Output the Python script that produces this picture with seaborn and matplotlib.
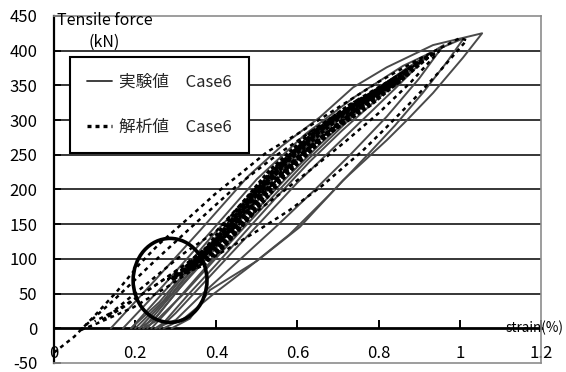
import matplotlib
matplotlib.use("Agg")
import matplotlib.pyplot as plt
from matplotlib.lines import Line2D
from matplotlib.patches import Ellipse
import seaborn as sns
import pandas as pd

# ---------------- data ----------------
# experimental loops (strain %, tensile force kN)
e1_strain = [0.14, 0.25, 0.36, 0.48, 0.56, 0.655, 0.737, 0.82, 0.934, 1.055,
             1.008, 0.934, 0.87, 0.82, 0.712, 0.606, 0.50, 0.384, 0.335, 0.29]
e1_force = [0, 70, 141, 220, 262, 304, 347, 376, 408, 425,
            390, 339, 300, 271, 213, 146, 97, 55, 14, 0]
e2_strain = [0.17, 0.27, 0.38, 0.50, 0.62, 0.74, 0.86, 0.95, 1.01,
             0.97, 0.91, 0.84, 0.76, 0.68, 0.58, 0.48, 0.39, 0.32, 0.27]
e2_force = [0, 62, 135, 215, 280, 333, 378, 403, 418,
            385, 340, 292, 242, 193, 135, 88, 48, 14, 0]
e3_strain = [0.19, 0.29, 0.40, 0.52, 0.64, 0.76, 0.87, 0.96,
             0.90, 0.82, 0.73, 0.64, 0.55, 0.46, 0.37, 0.30, 0.25]
e3_force = [0, 65, 140, 215, 278, 330, 375, 408,
            360, 305, 250, 198, 148, 100, 52, 12, 0]
b1_strain = [0.20, 0.27, 0.34, 0.41, 0.49, 0.57, 0.66, 0.75, 0.84,
             0.78, 0.70, 0.62, 0.54, 0.46, 0.39, 0.32, 0.25, 0.22]
b1_force = [0, 40, 90, 135, 192, 242, 288, 328, 362,
            330, 285, 240, 190, 140, 95, 50, 10, 0]
b2_strain = [0.21, 0.29, 0.36, 0.43, 0.51, 0.60, 0.70, 0.80,
             0.73, 0.65, 0.57, 0.49, 0.42, 0.35, 0.28, 0.24]
b2_force = [0, 50, 100, 145, 200, 255, 305, 345,
            305, 262, 215, 165, 118, 72, 25, 0]
b3_strain = [0.22, 0.30, 0.37, 0.45, 0.53, 0.62, 0.72, 0.88,
             0.80, 0.71, 0.63, 0.55, 0.47, 0.40, 0.33, 0.27, 0.25]
b3_force = [0, 55, 105, 160, 212, 262, 310, 372,
            332, 285, 240, 190, 138, 92, 48, 8, 0]
b4_strain = [0.19, 0.26, 0.33, 0.40, 0.47, 0.55, 0.63, 0.72,
             0.66, 0.59, 0.52, 0.45, 0.38, 0.31, 0.25, 0.21]
b4_force = [0, 38, 85, 132, 180, 232, 275, 315,
            280, 240, 195, 150, 103, 58, 15, 0]
b5_strain = [0.23, 0.31, 0.39, 0.47, 0.56, 0.65, 0.76, 0.92,
             0.84, 0.76, 0.68, 0.60, 0.52, 0.44, 0.37, 0.30, 0.26]
b5_force = [0, 58, 115, 172, 228, 278, 325, 392,
            345, 300, 255, 210, 160, 110, 66, 22, 0]

# analytical loops
a1_strain = [0.0, 0.05, 0.10, 0.155, 0.21, 0.26, 0.33, 0.40, 0.46, 0.525, 0.60,
             0.70, 0.80, 0.90, 1.0, 1.017, 0.95, 0.885, 0.82, 0.761, 0.66, 0.58,
             0.50, 0.43, 0.367, 0.28, 0.195, 0.106, 0.064]
a1_force = [-35, -12, 18, 53, 92, 122, 158, 195, 223, 254, 280,
            318, 355, 388, 418, 415, 370, 329, 290, 256, 205, 170,
            140, 115, 94, 60, 30, 7, -3]
a2_strain = [0.064, 0.15, 0.25, 0.35, 0.45, 0.55, 0.65, 0.75, 0.85, 0.95,
             0.88, 0.80, 0.72, 0.64, 0.56, 0.48, 0.40, 0.32, 0.24, 0.16, 0.10]
a2_force = [-3, 42, 98, 152, 205, 250, 290, 330, 365, 400,
            355, 310, 270, 232, 195, 160, 125, 90, 58, 28, 10]
a3_strain = [0.12, 0.22, 0.32, 0.40, 0.47, 0.55, 0.65, 0.75, 0.86,
             0.78, 0.70, 0.62, 0.54, 0.47, 0.40, 0.33, 0.25, 0.17, 0.12]
a3_force = [12, 60, 108, 140, 185, 235, 285, 325, 365,
            330, 295, 258, 215, 172, 128, 95, 62, 30, 12]
a4_strain = [0.28, 0.35, 0.42, 0.49, 0.57, 0.66, 0.76, 0.84,
             0.77, 0.69, 0.61, 0.53, 0.46, 0.40, 0.34, 0.28]
a4_force = [70, 100, 140, 190, 240, 288, 330, 358,
            326, 290, 250, 205, 160, 120, 88, 70]
a5_strain = [0.30, 0.37, 0.44, 0.51, 0.59, 0.68, 0.78, 0.90,
             0.82, 0.74, 0.66, 0.58, 0.50, 0.43, 0.37, 0.30]
a5_force = [75, 108, 152, 200, 250, 295, 338, 385,
            345, 312, 275, 232, 185, 140, 105, 75]
# dense band of repeated analytical cycles
c1_strain = [0.32, 0.40, 0.48, 0.56, 0.67, 0.77, 0.87,
             0.80, 0.72, 0.62, 0.53, 0.45, 0.37, 0.32]
c1_force = [80, 125, 185, 238, 293, 332, 366,
            336, 300, 255, 200, 140, 92, 80]
c2_strain = [0.34, 0.42, 0.50, 0.58, 0.69, 0.78, 0.85,
             0.78, 0.68, 0.58, 0.49, 0.41, 0.34]
c2_force = [88, 132, 193, 243, 297, 333, 356,
            322, 282, 230, 175, 118, 88]
c3_strain = [0.29, 0.37, 0.45, 0.53, 0.63, 0.73, 0.82,
             0.75, 0.66, 0.57, 0.49, 0.41, 0.29]
c3_force = [70, 112, 170, 226, 280, 322, 350,
            318, 272, 220, 165, 112, 70]
c4_strain = [0.31, 0.39, 0.47, 0.55, 0.65, 0.76, 0.93,
             0.85, 0.76, 0.67, 0.58, 0.50, 0.42, 0.31]
c4_force = [76, 120, 180, 232, 287, 330, 395,
            355, 318, 280, 232, 178, 126, 76]
c5_strain = [0.33, 0.41, 0.49, 0.57, 0.67, 0.76, 0.83,
             0.77, 0.69, 0.60, 0.51, 0.44, 0.33]
c5_force = [84, 128, 190, 240, 292, 327, 350,
            326, 290, 246, 192, 144, 84]

y_ticks = [-50, 0, 50, 100, 150, 200, 250, 300, 350, 400, 450]
x_ticks = [0, 0.2, 0.4, 0.6, 0.8, 1.0, 1.2]
x_tick_labels = ["0", "0.2", "0.4", "0.6", "0.8", "1", "1.2"]
label_exp = "実験値\u3000Case6"
label_ana = "解析値\u3000Case6"

# ---------------- build long tables ----------------
def build(loops):
    rows = []
    for name, xs, ys in loops:
        for i, (x, y) in enumerate(zip(xs, ys)):
            rows.append({"loop": name, "order": i, "strain": x, "force": y})
    return pd.DataFrame(rows)

exp_df = build([("e1", e1_strain, e1_force), ("e2", e2_strain, e2_force),
                ("e3", e3_strain, e3_force), ("b1", b1_strain, b1_force),
                ("b2", b2_strain, b2_force), ("b3", b3_strain, b3_force),
                ("b4", b4_strain, b4_force), ("b5", b5_strain, b5_force)])
ana_df = build([("a1", a1_strain, a1_force), ("a2", a2_strain, a2_force),
                ("a3", a3_strain, a3_force), ("a4", a4_strain, a4_force),
                ("a5", a5_strain, a5_force)])
band_df = build([("c1", c1_strain, c1_force), ("c2", c2_strain, c2_force),
                 ("c3", c3_strain, c3_force), ("c4", c4_strain, c4_force),
                 ("c5", c5_strain, c5_force)])

# ---------------- style ----------------
sns.set_theme(style="white")
plt.rcParams["font.family"] = ["Noto Sans CJK JP", "DejaVu Sans"]
plt.rcParams["axes.unicode_minus"] = True

fig = plt.figure(figsize=(5.66, 3.72), dpi=100)
ax = fig.add_axes([0.0954, 0.0242, 0.8604, 0.933])

EXP_COLOR = "#4a4a4a"
ANA_STYLE = (0, (1.6, 1.6))

sns.lineplot(data=exp_df, x="strain", y="force", units="loop", estimator=None,
             sort=False, color=EXP_COLOR, lw=1.4, legend=False, ax=ax, zorder=3)
sns.lineplot(data=band_df, x="strain", y="force", units="loop", estimator=None,
             sort=False, color="black", lw=2.8, linestyle=(0, (1.0, 0.6)),
             legend=False, ax=ax, zorder=4)
sns.lineplot(data=ana_df, x="strain", y="force", units="loop", estimator=None,
             sort=False, color="black", lw=1.8, linestyle=ANA_STYLE,
             legend=False, ax=ax, zorder=4)

ax.set_xlim(0, 1.2)
ax.set_ylim(-50, 450)
ax.set_xlabel("")
ax.set_ylabel("")

# y axis
ax.set_yticks(y_ticks)
ax.set_yticklabels([str(v) for v in y_ticks])
ax.tick_params(axis="y", direction="in", length=5, width=1.2, color="black",
               pad=12, labelsize=12, labelcolor="black", left=True)
ax.yaxis.grid(True, color="black", lw=1.1)
for gl, v in zip(ax.get_ygridlines(), y_ticks):
    if v in (-50, 0, 450):
        gl.set_visible(False)

# x tick labels sit just inside the bottom border
ax.set_xticks(x_ticks)
ax.set_xticklabels(x_tick_labels)
ax.tick_params(axis="x", direction="in", length=0, pad=-1, labelsize=12,
               labelcolor="black")
for lab in ax.get_xticklabels():
    lab.set_verticalalignment("bottom")

for side in ("top", "right", "bottom"):
    ax.spines[side].set_color("#8c8c8c")
    ax.spines[side].set_linewidth(1.2)
ax.spines["left"].set_color("black")
ax.spines["left"].set_linewidth(1.6)

# x axis line at force = 0 with upward tick marks
sec = ax.secondary_xaxis(0.1)
sec.set_xticks(x_ticks)
sec.tick_params(axis="x", direction="in", length=6, width=1.4, color="black",
                labelbottom=False)
sec.spines["bottom"].set_color("black")
sec.spines["bottom"].set_linewidth(2.0)

# axis titles
ax.text(0.006, 0.988, "Tensile force", transform=ax.transAxes, fontsize=11.5,
        ha="left", va="center", color="black", zorder=6)
ax.text(0.07, 0.925, "(kN)", transform=ax.transAxes, fontsize=11.5,
        ha="left", va="center", color="black", zorder=6)
ax.text(1.113, 0, "strain(%)", fontsize=9.8, ha="left", va="center",
        color="black", clip_on=False, zorder=6)

# highlight circle
circle_center = (0.286, 69)
circle_w, circle_h = 0.182, 121
ax.add_patch(Ellipse(circle_center, circle_w, circle_h, fill=False,
                     ec="black", lw=2.6, zorder=5))

# legend
handles = [Line2D([], [], color="#303030", lw=1.3),
           Line2D([], [], color="black", lw=2.4, linestyle=(0, (1.2, 1.2)))]
leg = ax.legend(handles, [label_exp, label_ana], loc="upper left",
                bbox_to_anchor=(0.033, 0.882), fontsize=12, frameon=True,
                fancybox=False, edgecolor="black", framealpha=1,
                borderpad=1.0, labelspacing=1.7, handlelength=1.5,
                handletextpad=0.45, borderaxespad=0)
leg.get_frame().set_linewidth(1.5)
leg.set_zorder(7)

fig.savefig("out.png", dpi=100)
